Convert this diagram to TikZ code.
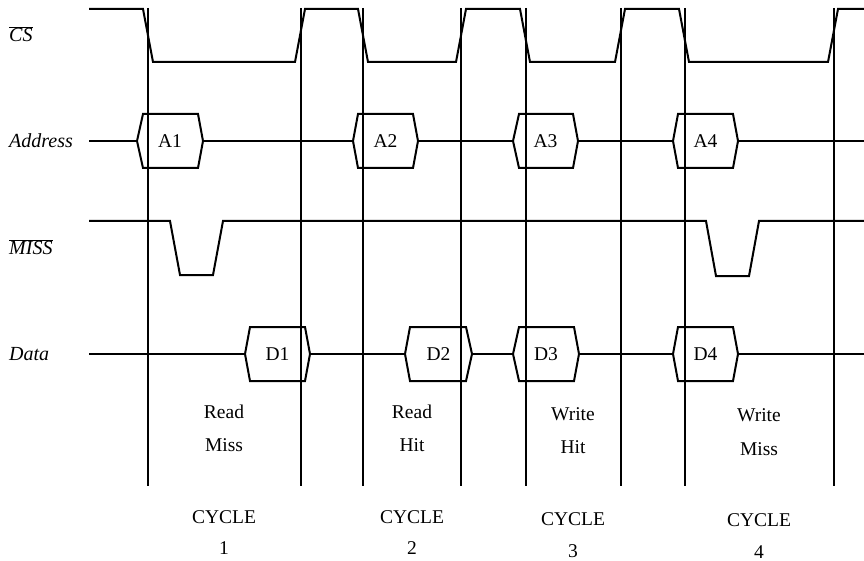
\documentclass[tikz,border=0pt]{standalone}
\usepackage{fontspec}
\setmainfont{Liberation Serif}
\begin{document}
\begin{tikzpicture}[x=1pt,y=-1pt,
  sig/.style={line width=2pt,line join=miter},
  vline/.style={line width=1.5pt},
  lbl/.style={font=\fontsize{20}{22}\selectfont\itshape,anchor=west,inner sep=0pt},
  txt/.style={font=\fontsize{19.5}{22}\selectfont,inner sep=0pt},
  cyc/.style={font=\fontsize{19.5}{22}\selectfont,inner sep=0pt}]
\useasboundingbox (0,0) rectangle (864,561);
% vertical lines
\foreach \x/\n in {148/v1,301/v2,363/v3,461/v4,526/v5,621/v6,685/v7,834/v8}{
  \coordinate (\n t) at (\x,8);
  \coordinate (\n b) at (\x,486);
  \draw[vline] (\n t) -- (\n b);
}
% CS
\draw[sig] (89,9) -- (143,9) -- (153,62) -- (295,62) -- (305,9) -- (358,9) -- (368,62)
  -- (456,62) -- (466,9) -- (520,9) -- (530,62) -- (615,62) -- (625,9) -- (679,9)
  -- (689,62) -- (828,62) -- (838,9) -- (864,9);
% Address
\draw[sig] (89,141) -- (137,141);
\draw[sig] (203,141) -- (353,141);
\draw[sig] (418,141) -- (513,141);
\draw[sig] (578,141) -- (673,141);
\draw[sig] (738,141) -- (864,141);
\foreach \a/\b/\c/\d/\n in {137/143/198/203/A1,353/358/413/418/A2,513/519/573/578/A3,673/678/733/738/A4}{
  \draw[sig] (\a,141) -- (\b,114) -- (\c,114) -- (\d,141) -- (\c,168) -- (\b,168) -- cycle;
  \node[txt] (n\n) at ({(\a+\d)/2},141) {\n};
}
% MISS
\draw[sig] (89,221) -- (170,221) -- (180,275) -- (213,275) -- (223,221) -- (706,221)
  -- (716,276) -- (749,276) -- (759,221) -- (864,221);
% Data
\draw[sig] (89,354) -- (245,354);
\draw[sig] (310,354) -- (405,354);
\draw[sig] (472,354) -- (513,354);
\draw[sig] (579,354) -- (673,354);
\draw[sig] (738,354) -- (864,354);
\foreach \a/\b/\c/\d/\n in {245/250/305/310/D1,405/410/466/472/D2,513/519/574/579/D3,673/678/733/738/D4}{
  \draw[sig] (\a,354) -- (\b,327) -- (\c,327) -- (\d,354) -- (\c,381) -- (\b,381) -- cycle;
  \node[txt] (n\n) at ({(\a+\d)/2},354) {\n};
}
% signal labels
\node[lbl] (lcs) at (9,34) {\(\overline{\textit{CS}}\)};
\node[lbl] (laddr) at (9,141) {Address};
\node[lbl] (lmiss) at (9,247) {\(\overline{\textit{MISS}}\)};
\node[lbl] (ldata) at (9,354) {Data};
% operation labels
\node[txt] (o1a) at (224,412) {Read};
\node[txt] (o1b) at (224,445) {Miss};
\node[txt] (o2a) at (412,412) {Read};
\node[txt] (o2b) at (412,445) {Hit};
\node[txt] (o3a) at (573,414) {Write};
\node[txt] (o3b) at (573,447) {Hit};
\node[txt] (o4a) at (759,415) {Write};
\node[txt] (o4b) at (759,449) {Miss};
% cycle labels
\node[cyc] (c1a) at (224,517) {CYCLE};
\node[cyc] (c1b) at (224,548) {1};
\node[cyc] (c2a) at (412,517) {CYCLE};
\node[cyc] (c2b) at (412,548) {2};
\node[cyc] (c3a) at (573,519) {CYCLE};
\node[cyc] (c3b) at (573,551) {3};
\node[cyc] (c4a) at (759,520) {CYCLE};
\node[cyc] (c4b) at (759,552) {4};
\end{tikzpicture}
\end{document}
